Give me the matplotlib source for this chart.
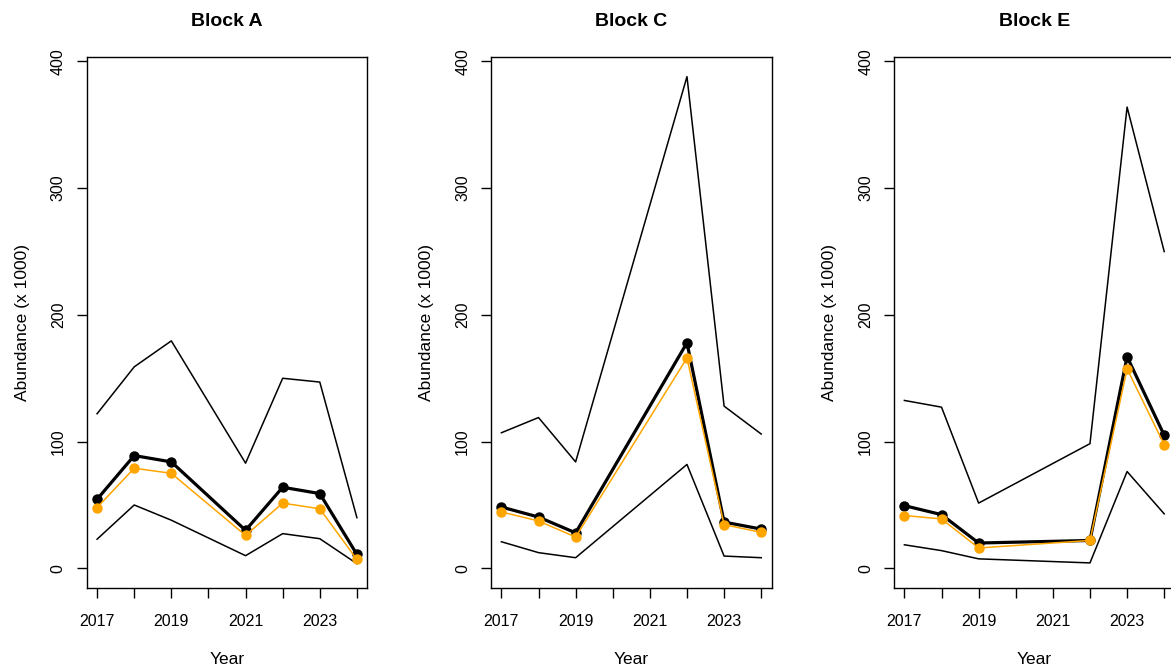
import matplotlib
matplotlib.use("Agg")
import matplotlib.pyplot as plt

plt.rcParams['font.family'] = ['Liberation Sans', 'DejaVu Sans']

# ---- data (abundance x 1000) ----
years_A = [2017, 2018, 2019, 2021, 2022, 2023, 2024]
mean_A = [54.5, 89, 84, 30, 64, 59, 11]
median_A = [48, 79, 75, 26, 51.5, 47, 7]
upper_A = [122, 159, 179.5, 83, 150, 147, 40]
lower_A = [23, 50, 38, 10, 27.4, 23.4, 3.7]

years_C = [2017, 2018, 2019, 2022, 2023, 2024]
mean_C = [48.4, 40.5, 28, 178, 36.5, 31]
median_C = [44.5, 37.4, 24.7, 166, 34.5, 28.4]
upper_C = [107, 119, 84, 388, 128, 106]
lower_C = [21, 12.4, 8.4, 82, 9.7, 8.4]

years_E = [2017, 2018, 2019, 2022, 2023, 2024]
mean_E = [49.5, 42.4, 20, 22, 167, 105]
median_E = [41.7, 39, 16.1, 22, 157.4, 97.6]
upper_E = [132.5, 127.2, 51.5, 98.4, 364, 250]
lower_E = [18.6, 14, 7.5, 4.3, 76.4, 43]

titles = ["Block A", "Block C", "Block E"]
x_ticks = [2017, 2018, 2019, 2020, 2021, 2022, 2023, 2024]
x_labels = ["2017", "", "2019", "", "2021", "", "2023", ""]
y_ticks = [0, 100, 200, 300, 400]
y_label = "Abundance (x 1000)"
x_label = "Year"

panels = [
    (years_A, mean_A, median_A, upper_A, lower_A),
    (years_C, mean_C, median_C, upper_C, lower_C),
    (years_E, mean_E, median_E, upper_E, lower_E),
]

W, H = 1171, 670
fig = plt.figure(figsize=(W / 100, H / 100), dpi=100)
lefts_px = [86.7, 491, 894]
box_w = 280.6
top_px, bot_px = 57, 588

for i, (yrs, mn, md, up, lo) in enumerate(panels):
    ax = fig.add_axes([lefts_px[i] / W, (H - bot_px) / H, box_w / W, (bot_px - top_px) / H])
    ax.plot(yrs, up, color='black', lw=1.1)
    ax.plot(yrs, lo, color='black', lw=1.1)
    ax.plot(yrs, mn, color='black', lw=2.3, marker='o', ms=6.5)
    ax.plot(yrs, md, color='#FFA500', lw=1.1, marker='o', ms=6.5)
    ax.set_xlim(2016.72, 2024.28)
    ax.set_ylim(-15.5, 403.5)
    ax.set_xticks(x_ticks)
    ax.set_xticklabels(x_labels)
    ax.set_yticks(y_ticks)
    ax.set_yticklabels([str(v) for v in y_ticks], rotation=90, va='center')
    ax.tick_params(axis='x', length=7, width=1, pad=12, labelsize=11.5)
    ax.tick_params(axis='y', length=7, width=1, pad=8, labelsize=11.5)
    for s in ax.spines.values():
        s.set_linewidth(1.0)
    ax.set_title(titles[i], fontsize=14, fontweight='bold', pad=22)
    ax.set_ylabel(y_label, fontsize=12.5, labelpad=15)
    ax.set_xlabel(x_label, fontsize=12.5, labelpad=16)

fig.savefig("out.png", dpi=100)
